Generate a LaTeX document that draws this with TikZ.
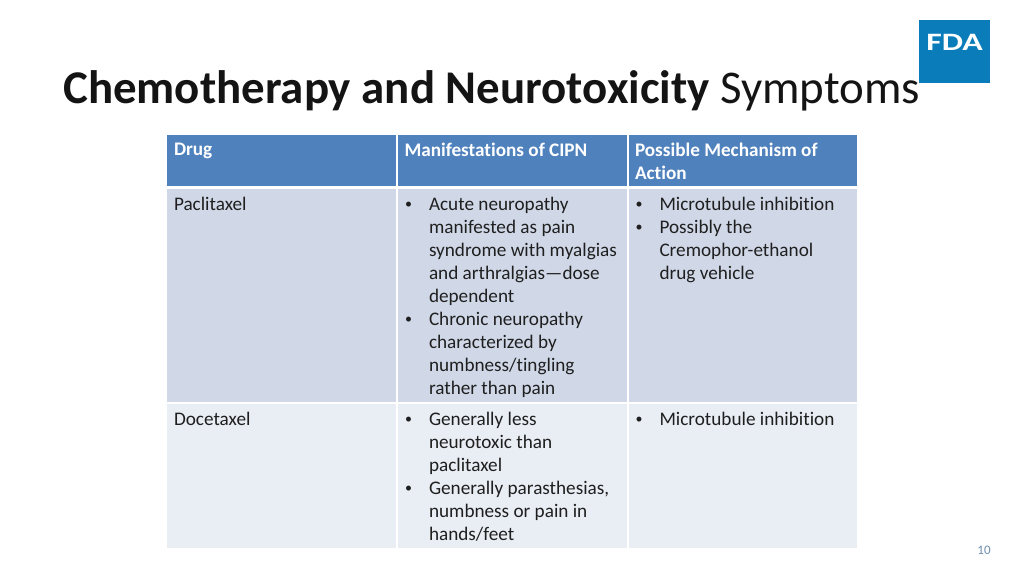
\documentclass[tikz,border=0pt]{standalone}
\usepackage{fontspec}
\setmainfont[Ligatures=NoCommon]{Carlito}
\usetikzlibrary{positioning, calc}
\definecolor{headblue}{HTML}{4F81BD}
\definecolor{rowdark}{HTML}{D0D8E8}
\definecolor{rowlight}{HTML}{E9EDF4}
\definecolor{logoblue}{HTML}{0A7CBA}
\definecolor{pagegray}{HTML}{6F8FB0}
\newcommand{\bul}{\makebox[24.5pt][l]{\hspace*{0.5pt}\raisebox{1.6pt}{\fontsize{14}{14}\selectfont\textbullet}}}
\newcommand{\ind}{\hspace*{24.5pt}}
\tikzset{
  cell/.style={anchor=north west, inner sep=0pt, outer sep=0pt},
  celltext/.style={anchor=north west, inner sep=0pt, outer sep=0pt, align=left,
    font=\fontsize{19.2}{23}\selectfont, text=black!88},
  headtext/.style={celltext, text=white, font=\fontsize{19.2}{23}\selectfont\bfseries}
}
\begin{document}
\begin{tikzpicture}[x=1pt, y=-1pt]
\useasboundingbox (0,0) rectangle (1024,576);
\fill[white] (0,0) rectangle (1024,576);
% title
\node[anchor=base west, inner sep=0pt, font=\fontsize{46.9}{50}\selectfont, text=black!92] (title) at (63,103)
  {\textbf{Chemotherapy and Neurotoxicity} Symptoms};
% logo
\node[cell, fill=logoblue, minimum width=71pt, minimum height=63pt] (logo) at (919,20) {};
\node[anchor=center, inner sep=0pt, text=white, xscale=1.35, font=\fontsize{25}{25}\selectfont\bfseries] (fda) at (954.5,42) {FDA};
% cells
\node[cell, fill=headblue, minimum width=229pt, minimum height=51pt] (head1) at (167,135) {};
\node[cell, fill=headblue, minimum width=229pt, minimum height=51pt] (head2) at (398,135) {};
\node[cell, fill=headblue, minimum width=228pt, minimum height=51pt] (head3) at (629,135) {};
\node[cell, fill=rowdark, minimum width=229pt, minimum height=213pt] (pac1) at (167,189) {};
\node[cell, fill=rowdark, minimum width=229pt, minimum height=213pt] (pac2) at (398,189) {};
\node[cell, fill=rowdark, minimum width=228pt, minimum height=213pt] (pac3) at (629,189) {};
\node[cell, fill=rowlight, minimum width=229pt, minimum height=144pt] (doc1) at (167,404) {};
\node[cell, fill=rowlight, minimum width=229pt, minimum height=144pt] (doc2) at (398,404) {};
\node[cell, fill=rowlight, minimum width=228pt, minimum height=144pt] (doc3) at (629,404) {};
% header text
\node[headtext] at ($(head1.north west)+(7,8)$) {Drug};
\node[headtext] at ($(head2.north west)+(6.5,8)$) {Manifestations of CIPN};
\node[headtext] at ($(head3.north west)+(6,8)$) {Possible Mechanism of\\Action};
% paclitaxel
\node[celltext] at ($(pac1.north west)+(7,8)$) {Paclitaxel};
\node[celltext] at ($(pac2.north west)+(6.5,8)$) {\bul Acute neuropathy\\\ind manifested as pain\\\ind syndrome with myalgias\\\ind and arthralgias—dose\\\ind dependent\\\bul Chronic neuropathy\\\ind characterized by\\\ind numbness/tingling\\\ind rather than pain};
\node[celltext] at ($(pac3.north west)+(6,8)$) {\bul Microtubule inhibition\\\bul Possibly the\\\ind Cremophor-ethanol\\\ind drug vehicle};
% docetaxel
\node[celltext] at ($(doc1.north west)+(7,8)$) {Docetaxel};
\node[celltext] at ($(doc2.north west)+(6.5,8)$) {\bul Generally less\\\ind neurotoxic than\\\ind paclitaxel\\\bul Generally parasthesias,\\\ind numbness or pain in\\\ind hands/feet};
\node[celltext] at ($(doc3.north west)+(6,8)$) {\bul Microtubule inhibition};
% page number
\node[anchor=center, inner sep=0pt, text=pagegray, font=\fontsize{13}{14}\selectfont] (pagenum) at (984,550) {10};
\end{tikzpicture}
\end{document}
